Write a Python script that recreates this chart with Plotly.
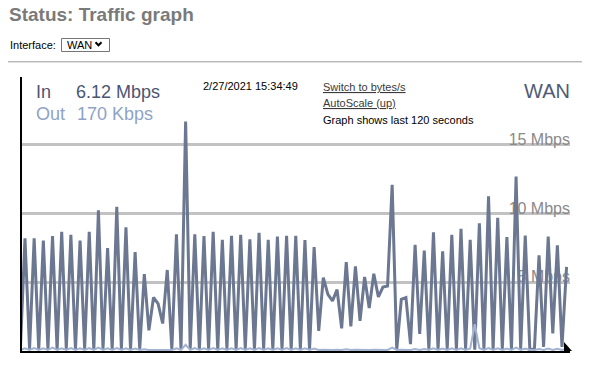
import plotly.graph_objects as go

# ---------------- data ----------------
seconds = list(range(120))

traffic_in = [
    0.15, 8.2, 0.15, 8.2, 0.1, 8.05, 0.15, 8.36, 0.1, 8.67,
    0.15, 8.46, 0.1, 8.05, 0.15, 8.67, 0.1, 10.24, 0.15, 7.5,
    0.1, 10.5, 0.15, 9.0, 0.1, 7.2, 0.15, 5.6, 1.5, 3.9,
    3.45, 2.0, 5.9, 0.15, 8.5, 0.1, 16.7, 0.15, 8.5, 0.1,
    8.36, 0.15, 8.67, 0.1, 8.1, 0.15, 8.39, 0.1, 8.46, 0.15,
    8.14, 0.1, 8.6, 0.15, 8.1, 0.1, 8.34, 0.15, 8.39, 0.1,
    8.39, 0.15, 8.07, 0.1, 7.56, 1.47, 5.34, 4.13, 3.65, 4.47,
    1.65, 6.47, 1.8, 6.16, 2.2, 5.39, 3.12, 5.63, 3.94, 4.66,
    4.73, 12.1, 0.1, 3.77, 3.89, 0.5, 7.73, 1.25, 7.32, 0.15,
    8.65, 0.1, 7.25, 0.15, 8.46, 0.1, 8.9, 0.15, 8.1, 0.1,
    9.3, 0.15, 11.26, 0.1, 9.7, 0.15, 8.29, 0.1, 12.7, 0.15,
    8.41, 0.1, 0.15, 6.96, 0.3, 8.34, 1.28, 7.69, 0.3, 6.12,
]

traffic_out = [
    0.08, 0.2, 0.08, 0.22, 0.08, 0.2, 0.08, 0.24, 0.08, 0.2,
    0.08, 0.22, 0.08, 0.2, 0.08, 0.22, 0.08, 0.25, 0.08, 0.2,
    0.08, 0.22, 0.08, 0.2, 0.08, 0.18, 0.08, 0.12, 0.08, 0.1,
    0.08, 0.08, 0.1, 0.08, 0.2, 0.08, 0.45, 0.08, 0.22, 0.08,
    0.2, 0.08, 0.22, 0.08, 0.2, 0.08, 0.2, 0.08, 0.22, 0.08,
    0.2, 0.08, 0.22, 0.08, 0.2, 0.08, 0.2, 0.08, 0.22, 0.08,
    0.2, 0.08, 0.2, 0.08, 0.18, 0.08, 0.1, 0.08, 0.08, 0.1,
    0.08, 0.12, 0.08, 0.1, 0.08, 0.1, 0.08, 0.1, 0.08, 0.1,
    0.08, 0.25, 0.08, 0.1, 0.08, 0.08, 0.15, 0.08, 0.15, 0.08,
    0.2, 0.08, 0.18, 0.08, 0.2, 0.08, 0.2, 0.08, 0.18, 1.95,
    0.2, 0.08, 0.22, 0.08, 0.2, 0.08, 0.18, 0.08, 0.25, 0.08,
    0.18, 0.08, 0.08, 0.15, 0.08, 0.18, 0.08, 0.17, 0.08, 0.17,
]

grid_values = [5, 10, 15]
grid_labels = ["5 Mbps", "10 Mbps", "15 Mbps"]

# ---------------- layout helpers ----------------
W, H = 589, 368
L, R, T, B = 22, 19, 77, 17
PW, PH = W - L - R, H - T - B
FONT = "Liberation Sans"


def px(x):
    return (x - L) / PW


def py(y):
    return (H - B - y) / PH


X_RANGE = [0.35, 119.75]
Y_RANGE = [0, 19.95]

fig = go.Figure()

# gridline labels (drawn under the data)
fig.add_trace(go.Scatter(
    x=[X_RANGE[1]] * len(grid_values),
    y=[v + 0.3 for v in grid_values],
    text=grid_labels,
    mode="text",
    textposition="middle left",
    textfont=dict(family=FONT, size=16, color="#8a8a8a"),
    cliponaxis=False,
    hoverinfo="skip",
))

fig.add_trace(go.Scatter(
    x=seconds, y=traffic_in, mode="lines",
    line=dict(color="#6c7891", width=3),
    hoverinfo="skip",
))
fig.add_trace(go.Scatter(
    x=seconds, y=traffic_out, mode="lines",
    line=dict(color="#a3b4d2", width=2),
    hoverinfo="skip",
))

ann = []


def text(x, y, s, size, color, anchor="left", bold=False):
    ann.append(dict(
        x=px(x), y=py(y), xref="paper", yref="paper",
        text=("<b>%s</b>" % s) if bold else s,
        showarrow=False, xanchor=anchor, yanchor="middle",
        font=dict(family=FONT, size=size, color=color),
        borderpad=0,
    ))


text(8, 15, "Status: Traffic graph", 19, "#7a7a7a", bold=True)
text(9, 44.5, "Interface:", 11, "#000000")
text(66, 45, "WAN", 11, "#000000")

text(35, 92.5, "In", 18, "#4b5573")
text(75, 92.5, "6.12 Mbps", 18, "#4b5573")
text(35, 113.5, "Out", 18, "#8ea3c6")
text(76, 113.5, "170 Kbps", 18, "#8ea3c6")

text(202, 86, "2/27/2021 15:34:49", 11, "#000000")
text(322, 87, "<u>Switch to bytes/s</u>", 11, "#3a3a3a")
text(322, 103, "<u>AutoScale (up)</u>", 11, "#3a3a3a")
text(322, 119.5, "Graph shows last 120 seconds", 11, "#000000")
text(571, 91, "WAN", 20, "#4f5b75", anchor="right")

shapes = [
    # horizontal rule under the header
    dict(type="line", xref="paper", yref="paper",
         x0=px(8), x1=px(582), y0=py(61.8), y1=py(61.8),
         line=dict(color="#9a9a9a", width=1)),
    # select box
    dict(type="rect", xref="paper", yref="paper",
         x0=px(61.5), x1=px(109.5), y0=py(38.5), y1=py(51.5),
         line=dict(color="#767676", width=1), fillcolor="white"),
    # chevron in the select box
    dict(type="path", xref="paper", yref="paper",
         path="M %f %f L %f %f L %f %f" % (px(95.5), py(42.3), px(98.5), py(45.3), px(101.5), py(42.3)),
         line=dict(color="#000000", width=2)),
    # arrow head bottom right
    dict(type="path", xref="paper", yref="paper",
         path="M %f %f L %f %f L %f %f Z" % (px(564), py(342), px(572), py(351), px(564), py(351)),
         fillcolor="#000000", line=dict(color="#000000", width=0)),
]

fig.update_layout(
    width=W, height=H,
    margin=dict(l=L, r=R, t=T, b=B),
    paper_bgcolor="white", plot_bgcolor="white",
    showlegend=False, hovermode=False,
    annotations=ann, shapes=shapes,
    xaxis=dict(range=X_RANGE, showgrid=False, zeroline=False,
               showticklabels=False, ticks="", showline=True,
               linecolor="#000000", linewidth=2, fixedrange=True),
    yaxis=dict(range=Y_RANGE, tickvals=grid_values, showgrid=True,
               gridcolor="#c2c2c2", gridwidth=3, zeroline=False,
               showticklabels=False, ticks="", showline=True,
               linecolor="#000000", linewidth=2, fixedrange=True),
)

fig.write_html("out.html", config={"displayModeBar": False})
